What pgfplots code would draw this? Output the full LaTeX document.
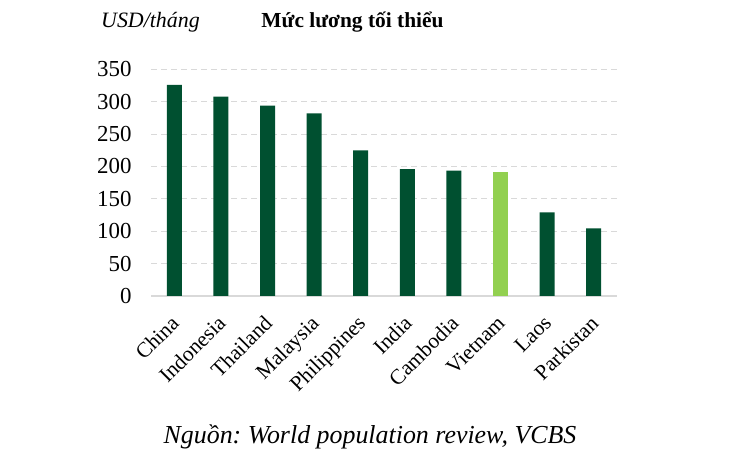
\documentclass[border=0pt]{standalone}
\usepackage{pgfplots}
\pgfplotsset{compat=1.18}
\usepackage{fontspec}
\setmainfont{Liberation Serif}
\frenchspacing
\definecolor{dkgreen}{RGB}{0,80,48}
\definecolor{ltgreen}{RGB}{146,208,80}
\definecolor{gridgray}{RGB}{217,217,217}
\begin{document}
\begin{tikzpicture}
\useasboundingbox (0,0) rectangle (750bp,459bp);
\begin{axis}[
  at={(151bp,163bp)}, anchor=south west,
  width=466bp, height=226.7bp, scale only axis,
  xmin=-0.5, xmax=9.5, ymin=0, ymax=350,
  ytick={0,50,...,350},
  xtick={0,...,9},
  xticklabels={China,Indonesia,Thailand,Malaysia,Philippines,India,Cambodia,Vietnam,Laos,Parkistan},
  x tick label style={rotate=45, anchor=north east, font=\fontsize{21.5}{24}\selectfont, inner sep=1pt, xshift=-15bp, yshift=-8.5bp},
  y tick label style={font=\fontsize{23}{25}\selectfont},
  /pgf/number format/assume math mode=true,
  axis x line*=bottom,
  axis y line*=left,
  x axis line style={draw=none},
  y axis line style={draw=none},
  major tick length=0pt,
  ymajorgrids,
  grid style={gridgray, dash pattern=on 6bp off 4bp, line width=0.9pt},
  ybar, bar width=15bp,
  yticklabel style={xshift=-16bp},
  clip=false,
]
\draw[gridgray, line width=1.2pt] (axis cs:-0.5,0) -- (axis cs:9.5,0);
\addplot[fill=dkgreen, draw=none, bar shift=0pt] coordinates {(0,326) (1,308) (2,294) (3,282) (4,225) (5,196) (6,193.5) (8,129) (9,104.5)};
\addplot[fill=ltgreen, draw=none, bar shift=0pt] coordinates {(7,191.5)};
\end{axis}
\node at (150.5bp,437bp) {\fontsize{22}{24}\selectfont\itshape USD/tháng};
\node at (352.5bp,437bp) {\fontsize{21.5}{24}\selectfont\bfseries Mức lương tối thiểu};
\node at (370bp,22bp) {\fontsize{26}{28}\selectfont\itshape Nguồn: World population review, VCBS};
\end{tikzpicture}
\end{document}
